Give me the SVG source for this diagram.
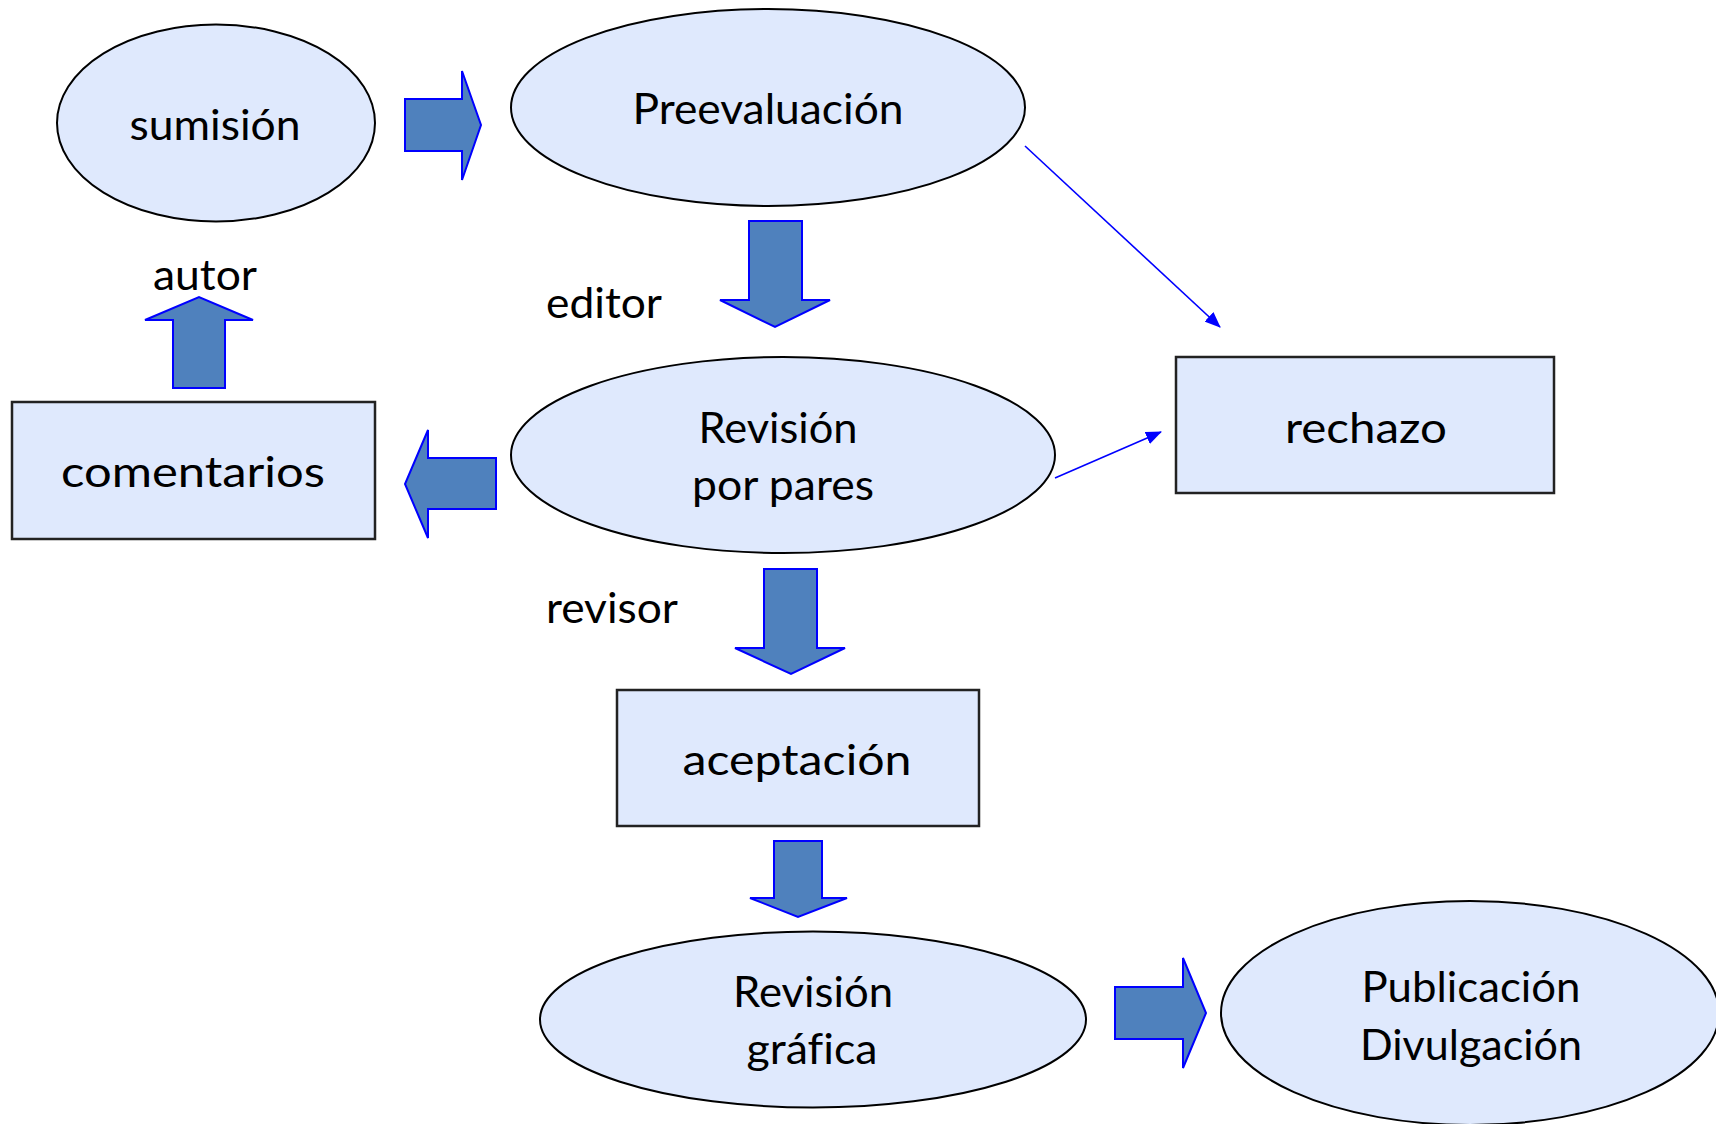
<svg xmlns="http://www.w3.org/2000/svg" width="1716" height="1124" viewBox="0 0 1716 1124">
<style>
.node{fill:#dfe9fd;stroke:#000;stroke-width:2}
.box{fill:#dfe9fd;stroke:#222;stroke-width:2.5}
.blk{fill:#4f81bd;stroke:#0000ff;stroke-width:2;stroke-linejoin:miter}
.ln{stroke:#0000ff;stroke-width:1.6;fill:none}
text{font-family:Lato,"Open Sans","Liberation Sans",sans-serif;font-size:42px;fill:#000;font-variant-ligatures:none}
.c{text-anchor:middle}
</style>
<defs>
<marker id="ah" viewBox="0 0 16 13" refX="15" refY="6.5" markerWidth="16" markerHeight="13" markerUnits="userSpaceOnUse" orient="auto">
<path d="M0,0 L16,6.5 L0,13 z" fill="#0000ff"/>
</marker>
</defs>
<rect width="1716" height="1124" fill="#fff"/>
<g id="connectors">
<polygon class="blk" points="405,99 462,99 462,71 481,125 462,180 462,151 405,151"/>
<polygon class="blk" points="173,388 173,320 145,320 199,297 253,320 225,320 225,388"/>
<polygon class="blk" points="749,221 802,221 802,300 830,300 775,327 720,300 749,300"/>
<polygon class="blk" points="496,458 428,458 428,430 405,484 428,538 428,509 496,509"/>
<polygon class="blk" points="764,569 817,569 817,648 845,648 791,674 735,648 764,648"/>
<polygon class="blk" points="774,841 822,841 822,898 847,898 798,917 750,898 774,898"/>
<polygon class="blk" points="1115,987 1183,987 1183,958 1206,1013 1183,1068 1183,1039 1115,1039"/>
<line class="ln" x1="1025" y1="146" x2="1220" y2="327" marker-end="url(#ah)"/>
<line class="ln" x1="1055" y1="478" x2="1161" y2="432" marker-end="url(#ah)"/>
</g>
<g id="sumision">
<ellipse class="node" cx="216" cy="123" rx="159" ry="98.5"/>
<text class="c" x="215" y="140" textLength="171" lengthAdjust="spacingAndGlyphs">sumisión</text>
</g>
<g id="preevaluacion">
<ellipse class="node" cx="768" cy="107.5" rx="257" ry="98.5"/>
<text class="c" x="768" y="124" textLength="271" lengthAdjust="spacingAndGlyphs">Preevaluación</text>
</g>
<g id="autor-label">
<text class="c" x="205" y="290" textLength="104" lengthAdjust="spacingAndGlyphs">autor</text>
</g>
<g id="editor-label">
<text x="546" y="318" textLength="116" lengthAdjust="spacingAndGlyphs">editor</text>
</g>
<g id="revision-pares">
<ellipse class="node" cx="783" cy="455" rx="272" ry="98"/>
<text class="c" x="778" y="443" textLength="159" lengthAdjust="spacingAndGlyphs">Revisión</text>
<text class="c" x="783" y="500" textLength="182" lengthAdjust="spacingAndGlyphs">por pares</text>
</g>
<g id="rechazo">
<rect class="box" x="1176" y="357" width="378" height="136"/>
<text class="c" x="1366" y="443" textLength="162" lengthAdjust="spacingAndGlyphs">rechazo</text>
</g>
<g id="comentarios">
<rect class="box" x="12" y="402" width="363" height="137"/>
<text class="c" x="193" y="487" textLength="264" lengthAdjust="spacingAndGlyphs">comentarios</text>
</g>
<g id="revisor-label">
<text x="546" y="623" textLength="132" lengthAdjust="spacingAndGlyphs">revisor</text>
</g>
<g id="aceptacion">
<rect class="box" x="617" y="690" width="362" height="136"/>
<text class="c" x="797" y="775" textLength="229" lengthAdjust="spacingAndGlyphs">aceptación</text>
</g>
<g id="revision-grafica">
<ellipse class="node" cx="813" cy="1019.5" rx="273" ry="88"/>
<text class="c" x="813" y="1007" textLength="160" lengthAdjust="spacingAndGlyphs">Revisión</text>
<text class="c" x="812" y="1064" textLength="131" lengthAdjust="spacingAndGlyphs">gráfica</text>
</g>
<g id="publicacion">
<ellipse class="node" cx="1470" cy="1013" rx="249" ry="112"/>
<text class="c" x="1471" y="1002" textLength="219" lengthAdjust="spacingAndGlyphs">Publicación</text>
<text class="c" x="1471" y="1060" textLength="222" lengthAdjust="spacingAndGlyphs">Divulgación</text>
</g>
</svg>
